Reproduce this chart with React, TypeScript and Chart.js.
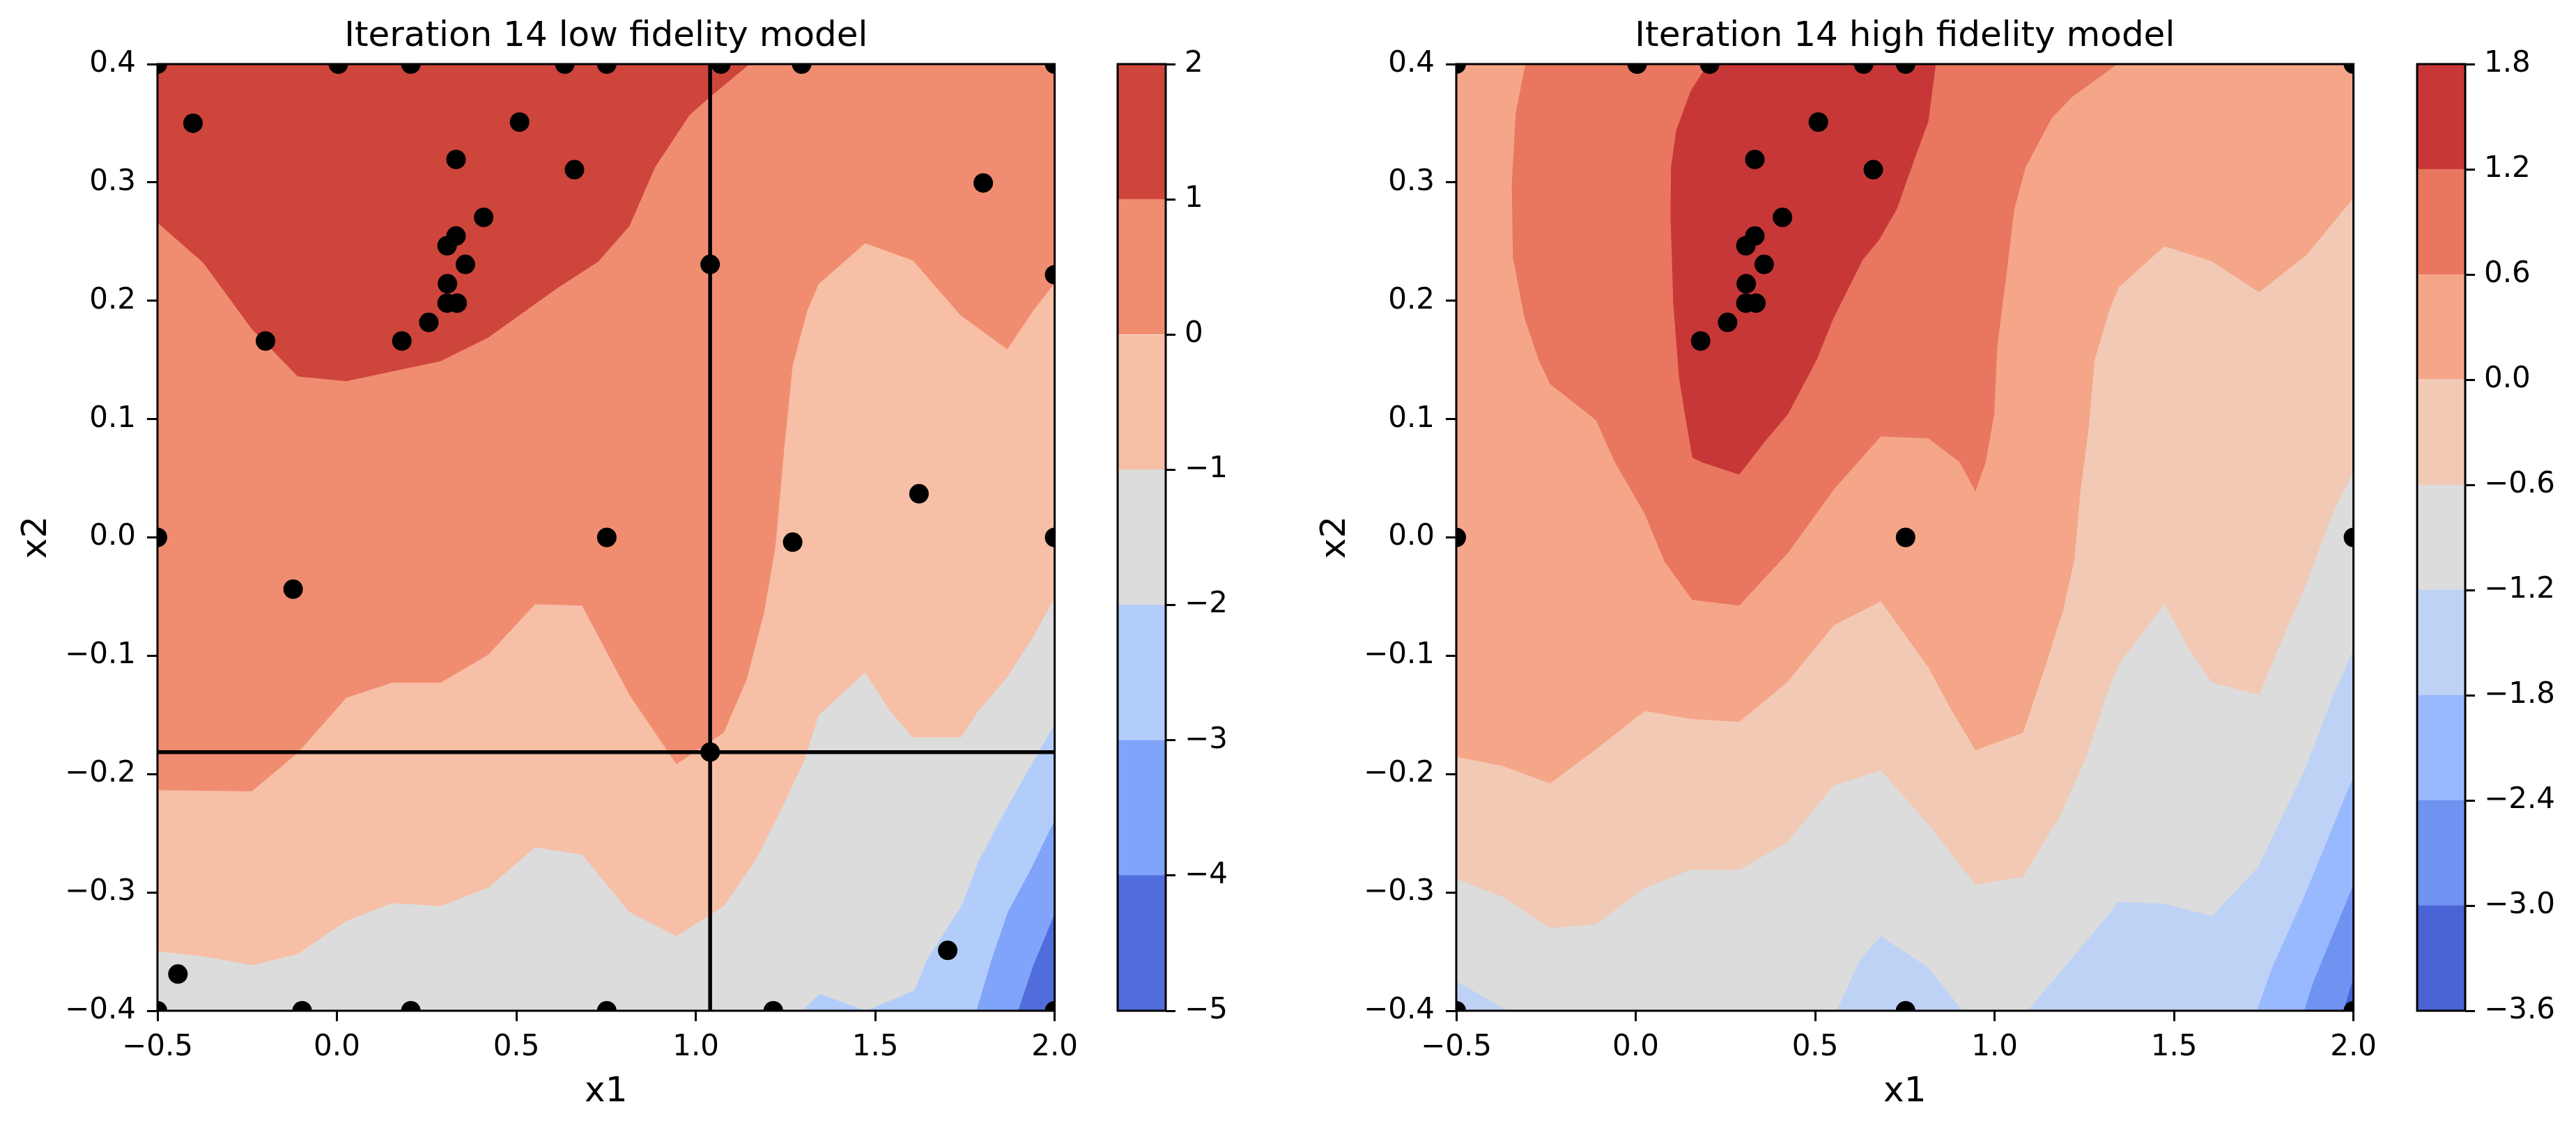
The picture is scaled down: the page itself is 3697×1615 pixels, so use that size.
import React, { useEffect, useRef } from 'react';
import { Chart, registerables } from 'chart.js';

Chart.register(...registerables);
Chart.defaults.font.family = "'DejaVu Sans', sans-serif";
Chart.defaults.color = '#000';

type Pt = [number, number];

// ---------- axes ----------
const X1_MIN = -0.5;
const X1_MAX = 2.0;
const X2_MIN = -0.4;
const X2_MAX = 0.4;
const xTicks = [-0.5, 0, 0.5, 1, 1.5, 2];
const xTickLabels = ['−0.5', '0.0', '0.5', '1.0', '1.5', '2.0'];
const yTicks = [-0.4, -0.3, -0.2, -0.1, 0, 0.1, 0.2, 0.3, 0.4];
const yTickLabels = ['−0.4', '−0.3', '−0.2', '−0.1', '0.0', '0.1', '0.2', '0.3', '0.4'];

// ---------- low fidelity model ----------
const lfTitle = 'Iteration 14 low fidelity model';
const lfLevels = [-5, -4, -3, -2, -1, 0, 1, 2];
const lfLevelLabels = ['−5', '−4', '−3', '−2', '−1', '0', '1', '2'];
const lfColors = ['#516DDB', '#81A4FB', '#B3CDFB', '#DCDCDC', '#F7BFA6', '#F08D70', '#CE453C'];

// contour lines (lower edge of each superlevel region)
const lfLineM4: Pt[] = [[1.898, -0.4], [1.94, -0.362], [2.0, -0.318]];
const lfLineM3: Pt[] = [[1.782, -0.4], [1.824, -0.357], [1.869, -0.317], [1.934, -0.28], [2.0, -0.239]];
const lfLineM2: Pt[] = [[1.297, -0.4], [1.345, -0.3856], [1.474, -0.4], [1.609, -0.383], [1.644, -0.357], [1.741, -0.311], [1.789, -0.273], [1.863, -0.2306], [1.956, -0.181], [2.0, -0.158]];
const lfLineM1: Pt[] = [[-0.5, -0.3497], [-0.372, -0.354], [-0.237, -0.3614], [-0.109, -0.352], [0.026, -0.324], [0.154, -0.309], [0.289, -0.3115], [0.422, -0.296], [0.552, -0.262], [0.683, -0.268], [0.815, -0.3166], [0.946, -0.337], [1.078, -0.3115], [1.166, -0.273], [1.238, -0.23], [1.302, -0.1885], [1.343, -0.15], [1.472, -0.114], [1.542, -0.147], [1.605, -0.169], [1.739, -0.169], [1.786, -0.147], [1.868, -0.118], [1.939, -0.0845], [2.0, -0.051]];
const lfLine0: Pt[] = [[-0.5, -0.2135], [-0.237, -0.2146], [-0.109, -0.182], [0.026, -0.1355], [0.154, -0.1228], [0.289, -0.1228], [0.422, -0.099], [0.552, -0.0565], [0.683, -0.0575], [0.815, -0.133], [0.946, -0.1916], [1.078, -0.165], [1.142, -0.12], [1.19, -0.064], [1.222, -0.008], [1.246, 0.0736], [1.27, 0.145], [1.31, 0.191], [1.342, 0.214], [1.472, 0.2485], [1.605, 0.234], [1.737, 0.188], [1.868, 0.159], [1.939, 0.191], [2.0, 0.215]];
const lfLine1: Pt[] = [[-0.5, 0.266], [-0.372, 0.232], [-0.237, 0.176], [-0.109, 0.136], [0.026, 0.132], [0.289, 0.149], [0.422, 0.169], [0.616, 0.211], [0.728, 0.233], [0.815, 0.263], [0.887, 0.313], [0.983, 0.357], [1.039, 0.372], [1.15, 0.4]];

// sample points
const lfX1 = [-0.5, 0.004, 0.206, 0.635, 0.752, 1.07, 1.295, 2.0, -0.401, 0.509, 0.332, 0.662, 1.801, 0.409, 0.332, 0.307, 0.358, 1.04, 2.0, 0.308, 0.307, 0.335, 0.256, -0.199, 0.181, -0.5, 0.752, 1.27, 1.622, 2.0, -0.122, 1.04, -0.443, 1.702, -0.5, -0.097, 0.206, 0.752, 1.216, 2.0];
const lfX2 = [0.4, 0.4, 0.4, 0.4, 0.4, 0.4, 0.4, 0.4, 0.35, 0.351, 0.3194, 0.3108, 0.2995, 0.2705, 0.2547, 0.2465, 0.2307, 0.2307, 0.222, 0.2144, 0.198, 0.198, 0.1817, 0.166, 0.166, 0, 0, -0.004, 0.0369, 0, -0.0437, -0.1814, -0.369, -0.349, -0.4, -0.4, -0.4, -0.4, -0.4, -0.4];
const crossX1 = 1.04;
const crossX2 = -0.1814;

// ---------- high fidelity model ----------
const hfTitle = 'Iteration 14 high fidelity model';
const hfLevels = [-3.6, -3.0, -2.4, -1.8, -1.2, -0.6, 0.0, 0.6, 1.2, 1.8];
const hfLevelLabels = ['−3.6', '−3.0', '−2.4', '−1.8', '−1.2', '−0.6', '0.0', '0.6', '1.2', '1.8'];
const hfColors = ['#4A64D5', '#7093F2', '#99B9FE', '#BED2F6', '#DCDCDC', '#F2C9B4', '#F5A688', '#E9765F', '#C83737'];

const hfLineM30: Pt[] = [[1.972, -0.4], [2.0, -0.372]];
const hfLineM24: Pt[] = [[1.8627, -0.4], [1.888, -0.3759], [1.946, -0.333], [2.0, -0.2935]];
const hfLineM18: Pt[] = [[1.731, -0.4], [1.7727, -0.364], [1.8658, -0.3013], [2.0, -0.202]];
const hfLineM12: Pt[] = [[-0.5, -0.375], [-0.3582, -0.4], [0.5601, -0.4], [0.6239, -0.3574], [0.683, -0.337], [0.8155, -0.3635], [0.9113, -0.4], [1.092, -0.4], [1.32, -0.318], [1.3427, -0.308], [1.471, -0.3095], [1.6058, -0.32], [1.734, -0.2787], [1.8658, -0.1953], [1.9428, -0.1345], [2.0, -0.0947]];
const hfLineM06: Pt[] = [[-0.5, -0.2885], [-0.3709, -0.3038], [-0.2384, -0.3303], [-0.1107, -0.3268], [0.025, -0.2962], [0.1528, -0.2809], [0.2886, -0.2809], [0.4211, -0.2579], [0.5521, -0.2095], [0.683, -0.1967], [0.8155, -0.2426], [0.9465, -0.2936], [1.079, -0.287], [1.1828, -0.235], [1.2547, -0.1865], [1.3106, -0.134], [1.3458, -0.1075], [1.4736, -0.0565], [1.5423, -0.0947], [1.6062, -0.1228], [1.7371, -0.133], [1.7898, -0.0947], [1.8697, -0.0386], [1.9416, 0.02], [2.0, 0.0558]];
const hfLine00: Pt[] = [[-0.5, -0.1855], [-0.3709, -0.1931], [-0.2384, -0.2079], [-0.1107, -0.1789], [0.025, -0.1467], [0.1528, -0.1534], [0.2886, -0.1559], [0.4211, -0.1228], [0.5521, -0.0743], [0.683, -0.0539], [0.8155, -0.11], [0.8794, -0.1457], [0.9465, -0.1799], [1.079, -0.1651], [1.143, -0.1075], [1.191, -0.0616], [1.2229, -0.0182], [1.2389, 0.0379], [1.2628, 0.094], [1.2788, 0.15], [1.3187, 0.1909], [1.3459, 0.2113], [1.4736, 0.246], [1.6062, 0.2332], [1.7371, 0.2072], [1.8697, 0.2388], [2.0, 0.2868]];
// closed bands touching the top edge
const hfBand06: Pt[] = [[-0.3071, 0.4], [-0.3342, 0.3592], [-0.3454, 0.298], [-0.3422, 0.2368], [-0.3103, 0.1858], [-0.2704, 0.15], [-0.2385, 0.1297], [-0.1107, 0.0991], [-0.058, 0.0634], [0.025, 0.02], [0.0809, -0.0208], [0.1576, -0.0529], [0.2886, -0.0575], [0.4243, -0.0131], [0.552, 0.0405], [0.683, 0.0853], [0.8155, 0.0838], [0.9034, 0.0634], [0.9465, 0.0389], [0.9752, 0.0634], [0.9992, 0.1042], [1.0071, 0.1603], [1.0391, 0.2368], [1.055, 0.2776], [1.087, 0.3133], [1.1589, 0.3541], [1.2148, 0.3719], [1.3425, 0.4]];
const hfBand12: Pt[] = [[0.2008, 0.4], [0.1528, 0.377], [0.1129, 0.3439], [0.0985, 0.3133], [0.0969, 0.2725], [0.1049, 0.196], [0.1209, 0.1348], [0.1369, 0.1042], [0.1577, 0.0675], [0.1848, 0.0634], [0.2886, 0.0532], [0.3605, 0.0813], [0.4243, 0.1042], [0.5042, 0.15], [0.5521, 0.1858], [0.6319, 0.2343], [0.6798, 0.2521], [0.7277, 0.2776], [0.7756, 0.3184], [0.8156, 0.3516], [0.8363, 0.4]];

const hfX1 = [-0.5, 0.004, 0.206, 0.635, 0.752, 2.0, 0.509, 0.332, 0.662, 0.409, 0.332, 0.307, 0.358, 0.308, 0.307, 0.335, 0.256, 0.181, -0.5, 0.752, 2.0, -0.5, 0.752, 2.0];
const hfX2 = [0.4, 0.4, 0.4, 0.4, 0.4, 0.4, 0.351, 0.3194, 0.3108, 0.2705, 0.2547, 0.2465, 0.2307, 0.2144, 0.198, 0.198, 0.1817, 0.166, 0, 0, 0, -0.4, -0.4, -0.4];

// ---------- helpers ----------
const fullRect: Pt[] = [[X1_MIN, X2_MIN], [X1_MAX, X2_MIN], [X1_MAX, X2_MAX], [X1_MIN, X2_MAX]];
const closeAbove = (line: Pt[]): Pt[] => [...line, [X1_MAX, X2_MAX], [X1_MIN, X2_MAX], [X1_MIN, X2_MIN]];

const lfRegions: Pt[][] = [fullRect, closeAbove(lfLineM4), closeAbove(lfLineM3), closeAbove(lfLineM2), closeAbove(lfLineM1), closeAbove(lfLine0), closeAbove(lfLine1)];
const hfRegions: Pt[][] = [fullRect, closeAbove(hfLineM30), closeAbove(hfLineM24), closeAbove(hfLineM18), closeAbove(hfLineM12), closeAbove(hfLineM06), closeAbove(hfLine00), hfBand06, hfBand12];

const H = 1615;

const framePlugin = {
  id: 'frame',
  afterDatasetsDraw(chart: any) {
    const { ctx, chartArea: a } = chart;
    ctx.save();
    ctx.strokeStyle = '#000';
    ctx.lineWidth = 3;
    ctx.strokeRect(a.left, a.top, a.right - a.left, a.bottom - a.top);
    ctx.restore();
  },
};

function contourConfig(title: string, regions: Pt[][], colors: string[], px: number[], py: number[], padRight: number, cross: boolean): any {
  const datasets: any[] = regions.map((poly, k) => ({
    type: 'line',
    data: poly.map(([x, y]) => ({ x, y })),
    fill: 'shape',
    backgroundColor: colors[k],
    borderWidth: 0,
    pointRadius: 0,
    pointHoverRadius: 0,
    order: 100 - k,
  }));
  if (cross) {
    datasets.push({
      type: 'line',
      data: [{ x: crossX1, y: X2_MIN }, { x: crossX1, y: X2_MAX }],
      borderColor: '#000', borderWidth: 5.5, pointRadius: 0, fill: false, order: 2, clip: 0,
    });
    datasets.push({
      type: 'line',
      data: [{ x: X1_MIN, y: crossX2 }, { x: X1_MAX, y: crossX2 }],
      borderColor: '#000', borderWidth: 5.5, pointRadius: 0, fill: false, order: 2, clip: 0,
    });
  }
  datasets.push({
    type: 'line',
    data: px.map((x, i) => ({ x, y: py[i] })),
    showLine: false,
    pointRadius: 14,
    pointHoverRadius: 14,
    pointBackgroundColor: '#000',
    pointBorderWidth: 0,
    fill: false,
    order: 1,
    clip: 0,
  });
  return {
    type: 'line',
    data: { datasets },
    plugins: [framePlugin],
    options: {
      responsive: false,
      animation: false,
      devicePixelRatio: 1,
      events: [],
      layout: { padding: { left: 0, top: 0, right: padRight, bottom: 0 } },
      plugins: {
        legend: { display: false },
        tooltip: { enabled: false },
        title: {
          display: true, text: title, fullSize: false, color: '#000',
          font: { size: 50, weight: 'normal' }, padding: { top: 23, bottom: 9 },
        },
      },
      scales: {
        x: {
          type: 'linear', min: X1_MIN, max: X1_MAX,
          afterBuildTicks: (s: any) => { s.ticks = xTicks.map((v) => ({ value: v })); },
          afterFit: (s: any) => { s.height = 164; },
          ticks: { callback: (_v: any, i: number) => xTickLabels[i], font: { size: 42 }, color: '#000', padding: 13, autoSkip: false, maxRotation: 0, minRotation: 0 },
          grid: { drawOnChartArea: false, drawTicks: true, tickLength: 15, tickWidth: 3, tickColor: '#000' },
          border: { display: false },
          title: { display: true, text: 'x1', color: '#000', font: { size: 50 }, padding: { top: 0, bottom: 17 } },
        },
        y: {
          type: 'linear', min: X2_MIN, max: X2_MAX,
          afterBuildTicks: (s: any) => { s.ticks = yTicks.map((v) => ({ value: v })); },
          afterFit: (s: any) => { s.width = 226; },
          ticks: { callback: (_v: any, i: number) => yTickLabels[i], font: { size: 42 }, color: '#000', padding: 16, autoSkip: false },
          grid: { drawOnChartArea: false, drawTicks: true, tickLength: 15, tickWidth: 3, tickColor: '#000' },
          border: { display: false },
          title: { display: true, text: 'x2', color: '#000', font: { size: 50 }, padding: { top: 23, bottom: 0 } },
        },
      },
    },
  };
}

function colorbarConfig(levels: number[], labels: string[], colors: string[], padLeft: number, axisWidth: number): any {
  return {
    type: 'bar',
    data: {
      labels: [''],
      datasets: colors.map((c, i) => ({
        data: [[levels[i], levels[i + 1]]],
        backgroundColor: c,
        borderWidth: 0,
        grouped: false,
        barPercentage: 1,
        categoryPercentage: 1,
      })),
    },
    plugins: [framePlugin],
    options: {
      responsive: false,
      animation: false,
      devicePixelRatio: 1,
      events: [],
      layout: { padding: { left: padLeft, top: 92, right: 0, bottom: 164 } },
      plugins: { legend: { display: false }, tooltip: { enabled: false }, title: { display: false } },
      scales: {
        x: { display: false },
        y: {
          position: 'right', min: levels[0], max: levels[levels.length - 1],
          afterBuildTicks: (s: any) => { s.ticks = levels.map((v) => ({ value: v })); },
          afterFit: (s: any) => { s.width = axisWidth; },
          ticks: { callback: (_v: any, i: number) => labels[i], font: { size: 42 }, color: '#000', padding: 13, autoSkip: false },
          grid: { drawOnChartArea: false, drawTicks: true, tickLength: 14, tickWidth: 3, tickColor: '#000' },
          border: { display: false },
        },
      },
    },
  };
}

function ChartCanvas({ left, width, make }: { left: number; width: number; make: () => any }) {
  const ref = useRef<HTMLCanvasElement>(null);
  useEffect(() => {
    const chart = new Chart(ref.current as HTMLCanvasElement, make());
    return () => chart.destroy();
  }, []);
  return (
    <canvas
      ref={ref}
      width={width}
      height={H}
      style={{ position: 'absolute', left, top: 0, width, height: H }}
    />
  );
}

export default function App() {
  return (
    <div style={{ position: 'absolute', left: 0, top: 0, width: 3697, height: H, background: '#fff', overflow: 'hidden' }}>
      <ChartCanvas left={0} width={1560} make={() => contourConfig(lfTitle, lfRegions, lfColors, lfX1, lfX2, 39, true)} />
      <ChartCanvas left={1560} width={300} make={() => colorbarConfig(lfLevels, lfLevelLabels, lfColors, 44, 300 - 44 - 69)} />
      <ChartCanvas left={1864} width={1560} make={() => contourConfig(hfTitle, hfRegions, hfColors, hfX1, hfX2, 36, false)} />
      <ChartCanvas left={3424} width={273} make={() => colorbarConfig(hfLevels, hfLevelLabels, hfColors, 45, 273 - 45 - 69)} />
    </div>
  );
}
